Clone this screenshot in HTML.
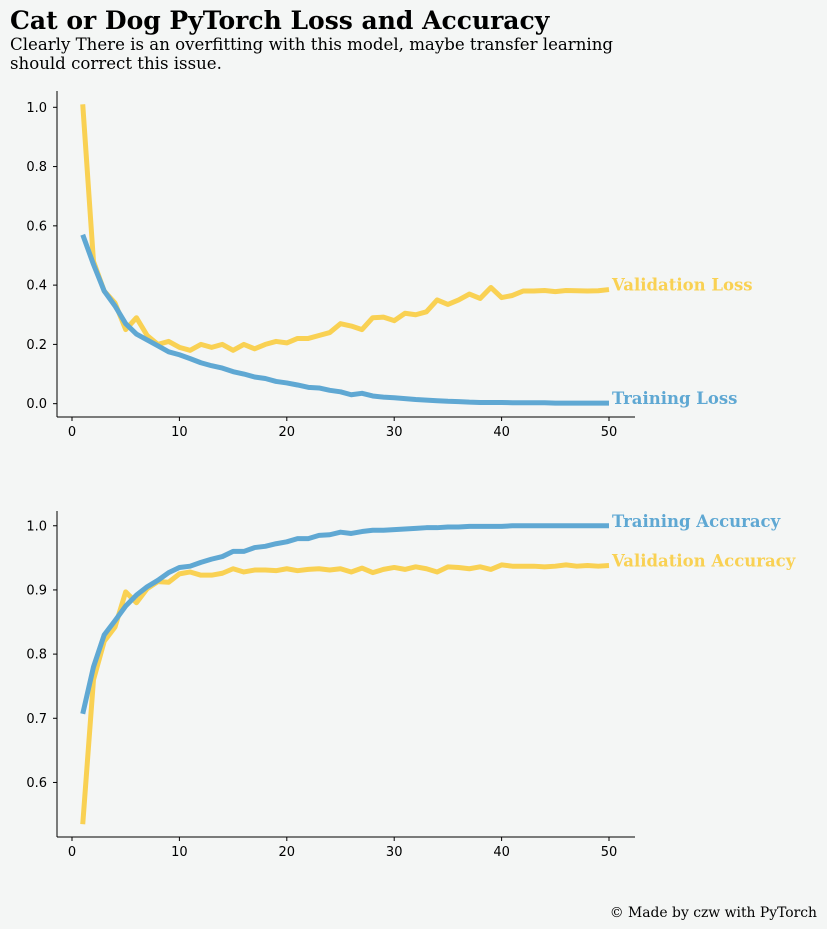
<!DOCTYPE html>
<html><head><meta charset="utf-8"><style>
body{margin:0;background:#f4f6f5;}
svg{display:block;font-family:"DejaVu Sans",sans-serif;}
.serif{font-family:"DejaVu Serif","Liberation Serif",serif;}
</style></head><body>
<svg id="chart" width="827" height="929" viewBox="0 0 827 929">
<rect width="827" height="929" fill="#f4f6f5"/>
<text class="serif" x="10" y="29" font-size="25" font-weight="bold" fill="#000">Cat or Dog PyTorch Loss and Accuracy</text>
<text class="serif" x="10" y="50" font-size="16.6" fill="#000">Clearly There is an overfitting with this model, maybe transfer learning</text>
<text class="serif" x="10" y="69" font-size="16.6" fill="#000">should correct this issue.</text>
<text class="serif" x="817" y="917" font-size="13.9" text-anchor="end" fill="#000">© Made by czw with PyTorch</text>
<g id="top"></g><g id="bot"></g>
</svg>
<script>
const epochs = Array.from({length:50},(_, i)=>i+1);
const trainLoss=[0.57,0.47,0.38,0.33,0.27,0.235,0.215,0.195,0.175,0.165,0.152,0.138,0.128,0.12,0.108,0.1,0.09,0.085,0.075,0.07,0.063,0.055,0.053,0.045,0.04,0.03,0.035,0.026,0.022,0.02,0.017,0.014,0.012,0.01,0.008,0.007,0.005,0.004,0.004,0.004,0.003,0.003,0.003,0.003,0.002,0.002,0.002,0.002,0.002,0.002];
const valLoss=[1.01,0.48,0.38,0.34,0.25,0.29,0.23,0.2,0.21,0.19,0.18,0.2,0.19,0.2,0.18,0.2,0.185,0.2,0.21,0.205,0.22,0.22,0.23,0.24,0.27,0.262,0.25,0.29,0.292,0.28,0.305,0.3,0.31,0.35,0.335,0.35,0.37,0.355,0.392,0.358,0.365,0.38,0.38,0.382,0.378,0.382,0.381,0.38,0.381,0.385];
const trainAcc=[0.707,0.78,0.83,0.852,0.875,0.892,0.905,0.915,0.927,0.935,0.937,0.943,0.948,0.952,0.96,0.96,0.966,0.968,0.972,0.975,0.98,0.98,0.985,0.986,0.99,0.988,0.991,0.993,0.993,0.994,0.995,0.996,0.997,0.997,0.998,0.998,0.999,0.999,0.999,0.999,1.0,1.0,1.0,1.0,1.0,1.0,1.0,1.0,1.0,1.0];
const valAcc=[0.535,0.76,0.82,0.842,0.897,0.88,0.902,0.913,0.912,0.925,0.928,0.923,0.923,0.926,0.933,0.928,0.931,0.931,0.93,0.933,0.93,0.932,0.933,0.931,0.933,0.928,0.934,0.927,0.932,0.935,0.932,0.936,0.933,0.928,0.936,0.935,0.933,0.936,0.932,0.939,0.937,0.937,0.937,0.936,0.937,0.939,0.937,0.938,0.937,0.938];
const xTicks=[0,10,20,30,40,50];
const topTicks=[0,0.2,0.4,0.6,0.8,1.0];
const botTicks=[0.6,0.7,0.8,0.9,1.0];
const NS="http://www.w3.org/2000/svg";
const YEL="#f9d153", BLU="#5fa8d3";
function mk(tag,attrs,parent){const e=document.createElementNS(NS,tag);for(const k in attrs)e.setAttribute(k,attrs[k]);parent.appendChild(e);return e;}
const x=v=>72+v*(609-72)/50;
function panel(g,top,bottom,ymin,ymax,yticks,series,tag){
  const y=v=>bottom-(v-ymin)/(ymax-ymin)*(bottom-top);
  const ax=mk('g',{},g);
  
  
  mk('line',{x1:57,y1:top,x2:57,y2:bottom,stroke:'#000','stroke-width':1},ax);
  mk('line',{x1:57,y1:bottom,x2:635,y2:bottom,stroke:'#000','stroke-width':1},ax);
  xTicks.forEach(t=>{mk('line',{x1:x(t),y1:bottom,x2:x(t),y2:bottom+4,stroke:'#000'},ax);
    const tx=mk('text',{x:x(t),y:bottom+19,'font-size':13,'text-anchor':'middle'},ax);tx.textContent=t;
    
    });
  yticks.forEach(t=>{mk('line',{x1:53,y1:y(t),x2:57,y2:y(t),stroke:'#000'},ax);
    const tx=mk('text',{x:47,y:y(t)+4.5,'font-size':13,'text-anchor':'end'},ax);tx.textContent=t.toFixed(1);
    
    });
  series.forEach((s,i)=>{
    const p=mk('polyline',{points:s.d.map((v,j)=>x(epochs[j])+','+y(v)).join(' '),fill:'none',stroke:s.c,'stroke-width':5,'stroke-linejoin':'round'},g);
    
    
    const last=s.d[s.d.length-1];
    const tx=mk('text',{x:612,y:y(last)+s.dy,'font-size':16.5,'font-weight':'bold',fill:s.c,class:'serif'},g);tx.textContent=s.l;
    
    
  });
}
panel(document.getElementById('top'),91,417,-0.045,1.055,topTicks,[
 {d:valLoss,c:YEL,n:'validation-loss-line',l:'Validation Loss',dy:1},
 {d:trainLoss,c:BLU,n:'training-loss-line',l:'Training Loss',dy:1}],'loss');
panel(document.getElementById('bot'),511,837,0.515,1.023,botTicks,[
 {d:valAcc,c:YEL,n:'validation-accuracy-line',l:'Validation Accuracy',dy:1},
 {d:trainAcc,c:BLU,n:'training-accuracy-line',l:'Training Accuracy',dy:1}],'accuracy');
</script>
</body></html>
